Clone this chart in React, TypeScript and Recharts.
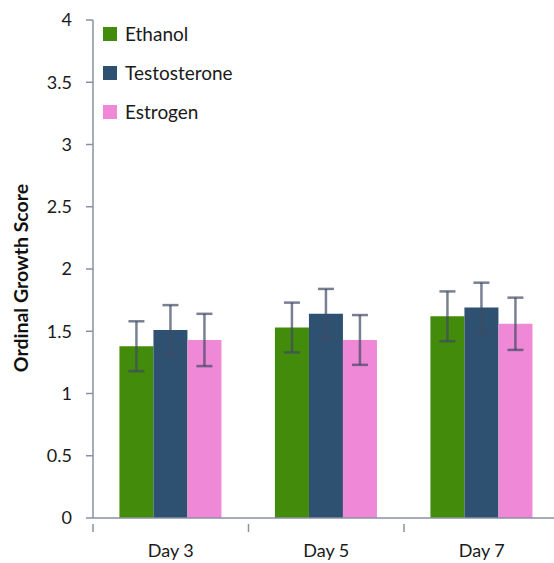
import { Bar, BarChart, ErrorBar, XAxis, YAxis } from "recharts";

const categories = ["Day 3", "Day 5", "Day 7"];
const ethanol = [1.38, 1.53, 1.62];
const testosterone = [1.51, 1.64, 1.69];
const estrogen = [1.43, 1.43, 1.56];
const ethanolErr = [0.2, 0.2, 0.2];
const testosteroneErr = [0.2, 0.2, 0.2];
const estrogenErr = [0.21, 0.2, 0.21];
const yTicks = [0, 0.5, 1, 1.5, 2, 2.5, 3, 3.5, 4];

const series = [
  { key: "Ethanol", color: "#438b0a" },
  { key: "Testosterone", color: "#2e5172" },
  { key: "Estrogen", color: "#ef88d7" },
];

const chartData = categories.map((c, i) => ({
  day: c,
  Ethanol: ethanol[i],
  Testosterone: testosterone[i],
  Estrogen: estrogen[i],
  ethErr: ethanolErr[i],
  tesErr: testosteroneErr[i],
  estErr: estrogenErr[i],
}));

const FONT = "Lato, 'Open Sans', sans-serif";
const AXIS = "#8a90a4";
const CHART_W = 575;
const PLOT_W = 466.5;
const half = PLOT_W / categories.length / 2;

function DayTick(props: any) {
  const { x, y, payload } = props;
  return (
    <g>
      <line x1={x - half} y1={y - 2} x2={x - half} y2={y + 6} stroke={AXIS} strokeWidth={1.5} />
      <text x={x} y={y + 31} textAnchor="middle" fontSize={18} fill="#1a1a1a" fontFamily={FONT}>
        {payload.value}
      </text>
    </g>
  );
}

// legend drawn over the plot, top-left inside
function LegendBox() {
  return (
    <div style={{ position: "absolute", left: 103, top: 14, fontFamily: FONT, fontSize: 19, color: "#1a1a1a" }}>
      {series.map((s) => (
        <div key={s.key} style={{ display: "flex", alignItems: "center", height: 39 }}>
          <span style={{ width: 14, height: 14, background: s.color, marginRight: 8, display: "inline-block" }} />
          {s.key}
        </div>
      ))}
    </div>
  );
}

export default function App() {
  return (
    <div style={{ position: "absolute", left: 0, top: 0, width: 554, height: 563, overflow: "hidden", background: "#fff" }}>
      <BarChart
        width={CHART_W}
        height={563}
        data={chartData}
        margin={{ top: 20, right: CHART_W - 93 - PLOT_W, bottom: 0, left: 0 }}
        barCategoryGap="17%"
        barGap={0}
      >
        <XAxis
          dataKey="day"
          height={45}
          stroke={AXIS}
          strokeWidth={1.5}
          tickLine={false}
          tick={<DayTick />}
          interval={0}
        />
        <YAxis
          width={93}
          domain={[0, 4]}
          ticks={yTicks}
          stroke={AXIS}
          strokeWidth={1.5}
          tickSize={7}
          tickMargin={14}
          tick={{ fontSize: 18, fill: "#1a1a1a", fontFamily: FONT }}
          label={{
            content: ({ viewBox }: any) => {
              const cx = 20;
              const cy = viewBox.y + viewBox.height / 2 + 9;
              return (
                <text
                  x={cx}
                  y={cy}
                  transform={`rotate(-90 ${cx} ${cy})`}
                  textAnchor="middle"
                  dominantBaseline="central"
                  fontSize={19.5}
                  fontWeight="bold"
                  fill="#111"
                  fontFamily={FONT}
                >
                  Ordinal Growth Score
                </text>
              );
            },
          }}
        />
        <Bar dataKey="Ethanol" fill={series[0].color} isAnimationActive={false}>
          <ErrorBar dataKey="ethErr" stroke="#3f4a64" strokeOpacity={0.7} strokeWidth={2.5} width={8} isAnimationActive={false} />
        </Bar>
        <Bar dataKey="Testosterone" fill={series[1].color} isAnimationActive={false}>
          <ErrorBar dataKey="tesErr" stroke="#3f4a64" strokeOpacity={0.7} strokeWidth={2.5} width={8} isAnimationActive={false} />
        </Bar>
        <Bar dataKey="Estrogen" fill={series[2].color} isAnimationActive={false}>
          <ErrorBar dataKey="estErr" stroke="#3f4a64" strokeOpacity={0.7} strokeWidth={2.5} width={8} isAnimationActive={false} />
        </Bar>
      </BarChart>
      <LegendBox />
    </div>
  );
}
